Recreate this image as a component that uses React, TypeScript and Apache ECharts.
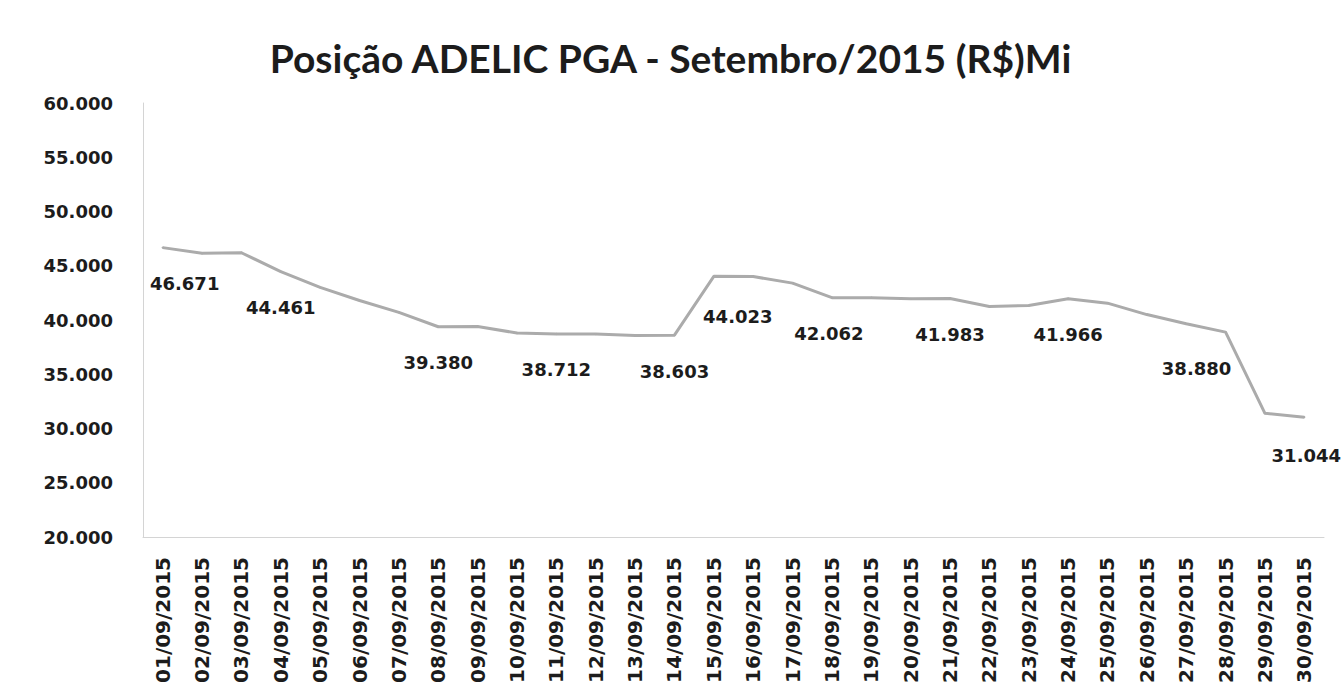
import React, { useEffect, useRef } from "react";
import * as echarts from "echarts";

const titleText = "Posição ADELIC PGA - Setembro/2015 (R$)Mi";

const dates = [
  "01/09/2015", "02/09/2015", "03/09/2015", "04/09/2015", "05/09/2015",
  "06/09/2015", "07/09/2015", "08/09/2015", "09/09/2015", "10/09/2015",
  "11/09/2015", "12/09/2015", "13/09/2015", "14/09/2015", "15/09/2015",
  "16/09/2015", "17/09/2015", "18/09/2015", "19/09/2015", "20/09/2015",
  "21/09/2015", "22/09/2015", "23/09/2015", "24/09/2015", "25/09/2015",
  "26/09/2015", "27/09/2015", "28/09/2015", "29/09/2015", "30/09/2015",
];

const positions = [
  46671, 46150, 46200, 44461, 43000,
  41800, 40700, 39380, 39400, 38800,
  38712, 38700, 38580, 38603, 44023,
  44000, 43400, 42062, 42050, 41950,
  41983, 41250, 41330, 41966, 41550,
  40500, 39650, 38880, 31400, 31044,
];

// indices of points whose value is printed
const labelledIdx = [0, 3, 7, 10, 13, 14, 17, 20, 23, 27, 29];

const yMin = 20000;
const yMax = 60000;
const yStep = 5000;

const fmt = (v: number) =>
  Math.round(v).toString().replace(/\B(?=(\d{3})+(?!\d))/g, ".");

export default function App() {
  const ref = useRef<HTMLDivElement>(null);
  useEffect(() => {
    if (!ref.current) return;
    const chart = echarts.init(ref.current, undefined, { renderer: "svg" });
    const titleFont = "Lato, 'Open Sans', sans-serif";
    const numFont = "'DejaVu Sans', sans-serif";
    const labelShift: Record<number, number[]> = {
      0: [22, 0],
      14: [24, 4],
      17: [-3, 0],
      27: [-29, 0],
      29: [2, 2],
    };
    const data = positions.map((v, i) => {
      const item: any = { value: v };
      if (labelledIdx.includes(i)) {
        item.label = { show: true };
      }
      return item;
    });
    chart.setOption({
      animation: false,
      backgroundColor: "#ffffff",
      title: {
        text: titleText,
        left: "center",
        top: 33,
        textStyle: {
          fontFamily: titleFont,
          fontWeight: "bold",
          fontSize: 39,
          color: "#1c1c1c",
        },
      },
      grid: { left: 143, right: 17, top: 103, bottom: 160, containLabel: false },
      xAxis: {
        type: "category",
        data: dates,
        boundaryGap: true,
        axisLine: { show: true, lineStyle: { color: "#d4d4d4", width: 1 } },
        axisTick: { show: false },
        axisLabel: {
          rotate: 90,
          interval: 0,
          margin: 20,
          fontFamily: numFont,
          fontWeight: "bold",
          fontSize: 20,
          color: "#1c1c1c",
        },
      },
      yAxis: {
        type: "value",
        min: yMin,
        max: yMax,
        interval: yStep,
        axisLine: { show: true, lineStyle: { color: "#d4d4d4", width: 1 } },
        axisTick: { show: false },
        splitLine: { show: false },
        axisLabel: {
          margin: 30,
          formatter: (v: number) => fmt(v),
          fontFamily: numFont,
          fontWeight: "bold",
          fontSize: 18,
          color: "#1c1c1c",
        },
      },
      series: [
        {
          type: "line",
          data,
          symbol: "circle",
          symbolSize: 2,
          showSymbol: true,
          itemStyle: { color: "#ababab" },
          smooth: false,
          lineStyle: { color: "#ababab", width: 3 },
          label: {
            show: false,
            position: "bottom",
            distance: 26,
            formatter: (p: any) => fmt(p.value),
            fontFamily: numFont,
            fontWeight: "bold",
            fontSize: 18,
            color: "#1c1c1c",
          },
          labelLayout: (params: any) => {
            const s = labelShift[params.dataIndex] || [0, 0];
            return { dx: s[0], dy: s[1], hideOverlap: false };
          },
        },
      ],
    });
    return () => chart.dispose();
  }, []);
  return <div ref={ref} style={{ width: 1341, height: 697, position: "absolute", left: 0, top: 0 }} />;
}
